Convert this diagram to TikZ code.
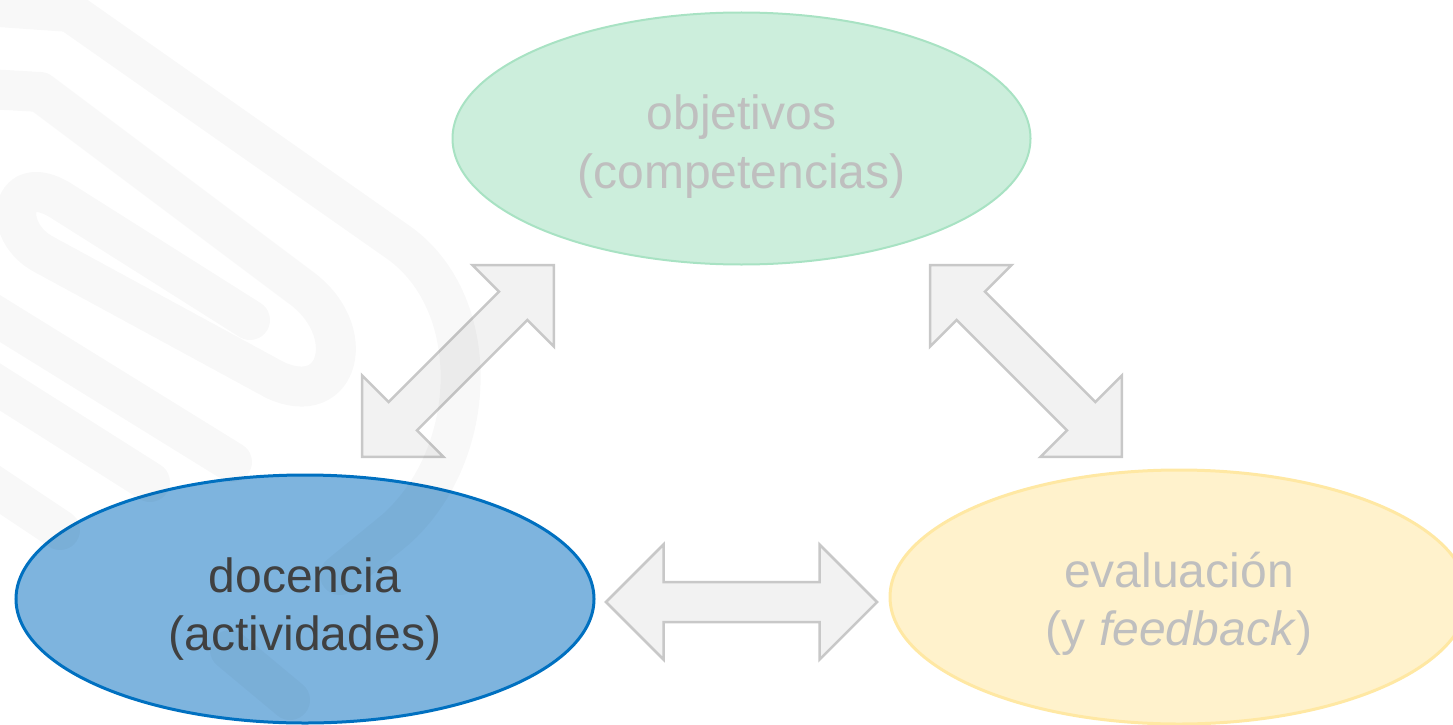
\documentclass[tikz,border=0pt]{standalone}
\usepackage{fontspec}
\setmainfont{Liberation Sans}
\usetikzlibrary{shapes.geometric}
\definecolor{greenfill}{HTML}{CCEEDC}
\definecolor{greenline}{HTML}{A8E2C3}
\definecolor{bluefill}{HTML}{7EB4DE}
\definecolor{blueline}{HTML}{0070C0}
\definecolor{yellowfill}{HTML}{FFF2CC}
\definecolor{yellowline}{HTML}{FFE8A3}
\definecolor{arrowfill}{HTML}{F2F2F2}
\definecolor{arrowline}{HTML}{C8C8C8}
\definecolor{lighttext}{HTML}{BFBFBF}
\definecolor{darktext}{HTML}{404040}
\begin{document}
\begin{tikzpicture}[x=1pt,y=-1pt,
  blob/.style={ellipse, inner sep=0pt, outer sep=0pt, minimum width=578pt, minimum height=252pt},
  txt/.style={font=\fontsize{48}{58}\selectfont, inner sep=0pt, anchor=base},
  blockarrow/.style={fill=arrowfill, draw=arrowline, line width=2.5pt, line join=miter},
  wm/.style={draw=black, opacity=0.028, line width=40pt, line cap=round, line join=round}]
\useasboundingbox (0,0) rectangle (1453,725);
% ellipses
\node[blob, fill=greenfill, draw=greenline, line width=2pt] (obj) at (741.5,138.5) {};
\node[blob, fill=bluefill, draw=blueline, line width=3pt, minimum height=248pt] (doc) at (305,599) {};
\node[blob, fill=yellowfill, draw=yellowline, line width=3pt, minimum height=254pt] (eva) at (1179,597) {};
% block arrows
\coordinate (arrL) at (458,361);
\coordinate (arrR) at (1026,361);
\coordinate (arrH) at (741.5,602);
\begin{scope}[shift={(arrL)}, rotate=45]
  \draw[blockarrow] (-135.5,0) -- (-78,-57.5) -- (-78,-20) -- (78,-20) -- (78,-57.5) -- (135.5,0) -- (78,57.5) -- (78,20) -- (-78,20) -- (-78,57.5) -- cycle;
\end{scope}
\begin{scope}[shift={(arrR)}, rotate=-45]
  \draw[blockarrow] (-135.5,0) -- (-78,-57.5) -- (-78,-20) -- (78,-20) -- (78,-57.5) -- (135.5,0) -- (78,57.5) -- (78,20) -- (-78,20) -- (-78,57.5) -- cycle;
\end{scope}
\begin{scope}[shift={(arrH)}]
  \draw[blockarrow] (-135.5,0) -- (-78,-57.5) -- (-78,-20) -- (78,-20) -- (78,-57.5) -- (135.5,0) -- (78,57.5) -- (78,20) -- (-78,20) -- (-78,57.5) -- cycle;
\end{scope}
% texts
\node[txt, text=lighttext] (objA) at (741.5,129) {objetivos};
\node[txt, text=lighttext] (objB) at (741.5,188) {(competencias)};
\node[txt, text=darktext] (docA) at (305,592) {docencia};
\node[txt, text=darktext] (docB) at (305,650) {(actividades)};
\node[txt, text=lighttext] (evaA) at (1179,587) {evaluación};
\node[txt, text=lighttext] (evaB) at (1179,645) {(y \textit{feedback})};
% faint watermark
\draw[wm] (-30,5) -- (70,12) -- (395,240) .. controls (485,300) and (480,455) .. (395,530) -- (340,575);
\draw[wm] (-30,88) -- (40,92) -- (300,287) .. controls (360,330) and (340,410) .. (275,380) -- (45,255) .. controls (0,232) and (10,170) .. (60,200) -- (250,320);
\draw[wm] (-30,300) -- (232,462);
\draw[wm] (-30,368) -- (150,482);
\draw[wm] (-30,470) -- (60,530);
\draw[wm] (230,650) -- (290,700);
\end{tikzpicture}
\end{document}
